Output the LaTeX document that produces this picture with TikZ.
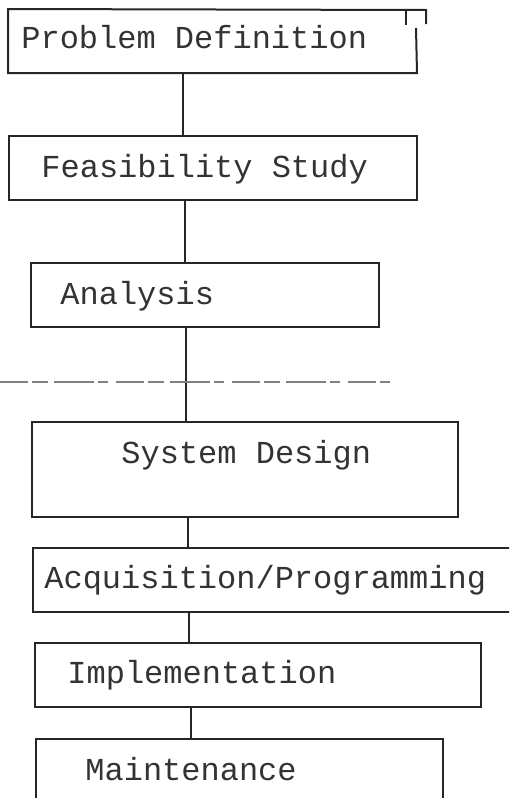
\documentclass[tikz,border=0pt]{standalone}
\usepackage{fontspec}
\setmonofont{Liberation Mono}
\usetikzlibrary{fit}

\tikzset{
  stage/.style={draw=black!85,line width=1pt,inner sep=0pt,rectangle},
  stagetext/.style={anchor=base west,inner sep=0pt,text=black!80,font=\ttfamily\fontsize{16pt}{19pt}\selectfont},
  link/.style={draw=black!85,line width=0.7pt}
}

\begin{document}
\begin{tikzpicture}[x=0.5pt,y=-0.5pt]
\useasboundingbox (0,0) rectangle (509,798);
\clip (0,0) rectangle (509,798);
% boxes
\node[stage,draw=none,fit={(9,10) (416,72)}] (prob) {};
\node[stage,fit={(9,136) (417,200)}] (feas) {};
\node[stage,fit={(31,263) (379,327)}] (anal) {};
\node[stage,fit={(32,422) (458,517)}] (sysd) {};
\node[stage,fit={(33,548) (530,612)}] (acqp) {};
\node[stage,fit={(35,643) (481,707)}] (impl) {};
\node[stage,fit={(36,739) (443,830)}] (mant) {};
% labels
\node[stagetext] (tprob) at (21,48) {Problem Definition};
\node[stagetext] (tfeas) at (41,177) {Feasibility Study};
\node[stagetext] (tanal) at (60,304) {Analysis};
\node[stagetext] (tsysd) at (121,463) {System Design};
\node[stagetext] (tacqp) at (44,588) {Acquisition/Programming};
\node[stagetext] (timpl) at (67,683) {Implementation};
\node[stagetext] (tmant) at (85,780) {Maintenance};
% connectors
\foreach \a/\b/\x in {prob/feas/183,feas/anal/185,anal/sysd/186,sysd/acqp/188,acqp/impl/189,impl/mant/191}
  \draw[link] (\x,0 |- \a.south) -- (\x,0 |- \b.north);
% first box outline, open at top right
\draw[stage] (416,28) -- (prob.south east) -- (prob.south west) -- (prob.north west) -- (426,10) -- (426,24);
\draw[stage] (406,10) -- (406,25);
% smudge
\draw[black!50,line width=1.3pt,dash pattern=on 14pt off 2pt on 8pt off 3pt on 20pt off 2pt on 5pt off 4pt] (0,382) -- (390,382);
\end{tikzpicture}
\end{document}
